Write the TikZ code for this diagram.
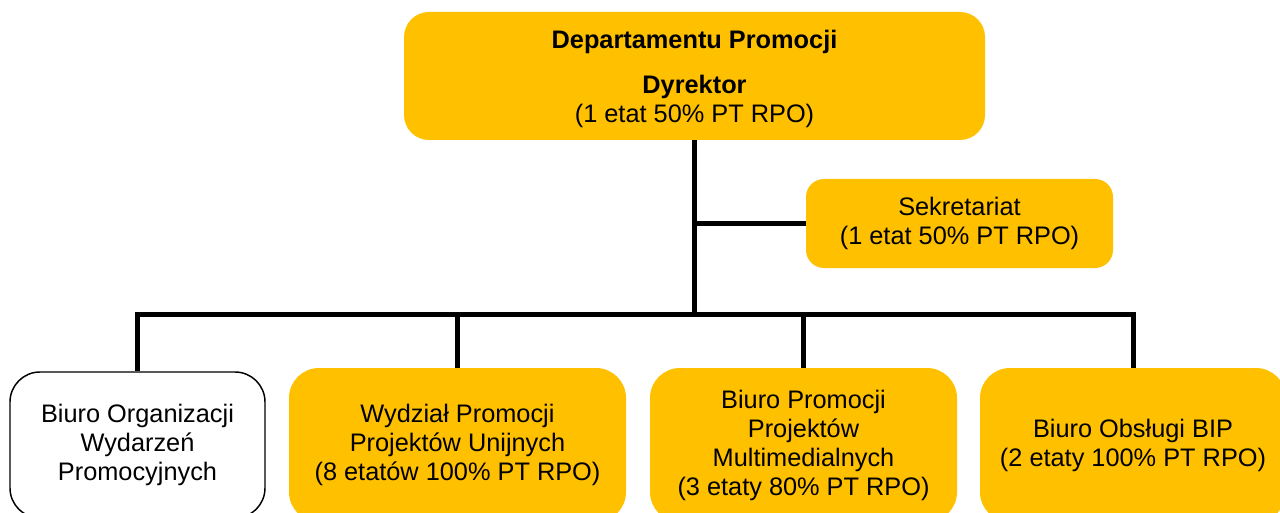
\documentclass[tikz,border=0pt]{standalone}
\usepackage{fontspec}
\setmainfont{Liberation Sans}
\definecolor{gold}{HTML}{FFC000}
\begin{document}
\begin{tikzpicture}[x=0.75pt,y=-0.75pt,
  unit/.style={rounded corners=#1, fill=gold, draw=none, align=center,
    inner sep=0pt, font=\fontsize{19}{21.75}\selectfont},
  unit/.default=22.5pt,
  link/.style={line width=3.75pt, line cap=rect}]
\useasboundingbox (0,0) rectangle (1280,513);
\clip (0,0) rectangle (1280,513);

% director: box outline and its text set separately so the text can sit lower
\node[unit=18.75pt, minimum width=435.75pt, minimum height=96pt] (dyr) at (694.5,76) {};
\node[align=center, inner sep=0pt, font=\fontsize{19}{21.75}\selectfont] (dyrtext) at (694.5,78.5)
  {\textbf{Departamentu Promocji}\\[12pt]\textbf{Dyrektor}\\(1 etat 50\% PT RPO)};

% secretariat
\node[unit=13.5pt, minimum width=230.25pt, minimum height=66.75pt] (sek) at (959.5,223.5)
  {Sekretariat\\(1 etat 50\% PT RPO)};

% departments
\node[unit, fill=white, draw=black, line width=1.1pt,
  minimum width=191.25pt, minimum height=109.5pt] (b1) at (137.5,445)
  {Biuro Organizacji\\Wydarzeń\\Promocyjnych};
\node[unit, minimum width=252.75pt, minimum height=115.5pt] (b2) at (457.5,445)
  {Wydział Promocji\\Projektów Unijnych\\(8 etatów 100\% PT RPO)};
\node[unit, minimum width=230.25pt, minimum height=115.5pt] (b3) at (803.5,445)
  {Biuro Promocji\\Projektów\\Multimedialnych\\(3 etaty 80\% PT RPO)};
\node[unit, minimum width=229.5pt, minimum height=115.5pt] (b4) at (1133,445)
  {Biuro Obsługi BIP\\(2 etaty 100\% PT RPO)};

% connectors
\coordinate (bus) at (694.5,314);
\draw[link, line cap=butt] (dyr.south) -- (bus);
\draw[link, line cap=butt] (dyr.south |- sek.west) -- (sek.west);
\draw[link] (b1.north |- bus) -- (b4.north |- bus);
\foreach \b in {b1,b2,b3,b4}
  \draw[link, line cap=butt] (\b.north |- bus) -- (\b.north);
\end{tikzpicture}
\end{document}
